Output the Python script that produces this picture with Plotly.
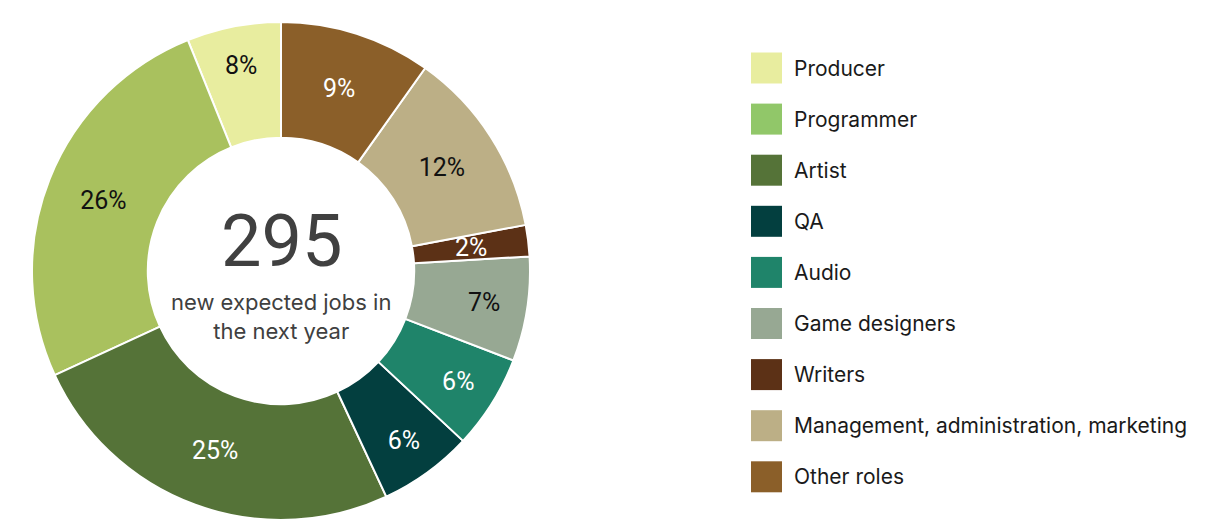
import math
import plotly.graph_objects as go

# ---- data ----
labels = ["Producer", "Programmer", "Artist", "QA", "Audio", "Game designers",
          "Writers", "Management, administration, marketing", "Other roles"]
# slice sizes as drawn in the reference (new expected jobs, total 295)
jobs = [18, 76, 74, 18, 18, 20, 6, 36, 29]
# percentage labels as printed in the reference
pct_labels = ["8%", "26%", "25%", "6%", "6%", "7%", "2%", "12%", "9%"]
total_jobs = 295
slice_colors = ["#e8ed9f", "#a9c15e", "#557338", "#033f3f", "#1f846a",
                "#97a893", "#5c3116", "#bcaf86", "#8b5f29"]
legend_colors = ["#e8ed9f", "#91c769", "#557338", "#033f3f", "#1f846a",
                 "#97a893", "#5c3116", "#bcaf86", "#8b5f29"]
text_colors = ["#111111", "#111111", "#ffffff", "#ffffff", "#ffffff",
               "#111111", "#ffffff", "#111111", "#ffffff"]
center_number = str(total_jobs)
center_caption = "new expected jobs in<br>the next year"

W, H = 1224, 528
cx, cy, R = 281, 271, 249  # pixel geometry of the donut
HOLE = 0.535

tot = sum(jobs)
small = [v / tot < 0.04 for v in jobs]
slice_text = ["" if s else t for t, s in zip(pct_labels, small)]
# first slice should start at 12 o'clock and run counterclockwise
rot = -360.0 * jobs[0] / tot

fig = go.Figure()
fig.add_trace(go.Pie(
    labels=labels, values=jobs, sort=False, direction="counterclockwise",
    rotation=rot, hole=HOLE,
    marker=dict(colors=slice_colors, line=dict(color="#ffffff", width=2)),
    text=slice_text, textinfo="text", textposition="inside",
    insidetextorientation="horizontal",
    insidetextfont=dict(family="Roboto", size=25, color=text_colors),
    showlegend=False, hoverinfo="label+value+percent",
    domain=dict(x=[(cx - R) / W, (cx + R) / W],
                y=[1 - (cy + R) / H, 1 - (cy - R) / H]),
))

annotations = []
shapes = []
# labels for slices too thin for inside text
cum = 0
for i, v in enumerate(jobs):
    mid = (cum + v / 2) / tot * 2 * math.pi  # counterclockwise from 12 o'clock
    cum += v
    if small[i]:
        rr = R * (1 + HOLE) / 2
        px = cx - rr * math.sin(mid)
        py = cy - rr * math.cos(mid)
        annotations.append(dict(x=px / W, y=1 - py / H, xref="paper", yref="paper",
                                xanchor="center", yanchor="middle",
                                text=pct_labels[i], showarrow=False,
                                font=dict(family="Roboto", size=25, color=text_colors[i])))

# center text
annotations.append(dict(x=cx / W, y=1 - 242 / H, xref="paper", yref="paper",
                        xanchor="center", yanchor="middle",
                        text=center_number, showarrow=False,
                        font=dict(family="Roboto", size=72, color="#404040")))
annotations.append(dict(x=cx / W, y=1 - 316 / H, xref="paper", yref="paper",
                        xanchor="center", yanchor="middle",
                        text=center_caption, showarrow=False,
                        font=dict(family="Inter", size=22, color="#404040")))

# custom legend
lx, ly0, step, sq = 751, 68, 51.1, 31
for i, lab in enumerate(labels):
    yc = ly0 + i * step
    shapes.append(dict(type="rect", xref="paper", yref="paper",
                       x0=lx / W, x1=(lx + sq) / W,
                       y0=1 - (yc + sq / 2) / H, y1=1 - (yc - sq / 2) / H,
                       fillcolor=legend_colors[i], line=dict(width=0)))
    annotations.append(dict(x=792 / W, y=1 - yc / H, xref="paper", yref="paper",
                            xanchor="left", yanchor="middle", text=lab, showarrow=False,
                            font=dict(family="Inter", size=21, color="#1a1a1a")))

fig.update_layout(
    width=W, height=H, margin=dict(l=0, r=0, t=0, b=0),
    paper_bgcolor="#ffffff", plot_bgcolor="#ffffff",
    annotations=annotations, shapes=shapes, showlegend=False,
)

fig.write_html("out.html", config={"displayModeBar": False},
               post_script="document.body.style.margin='0';document.body.style.overflow='hidden';")
